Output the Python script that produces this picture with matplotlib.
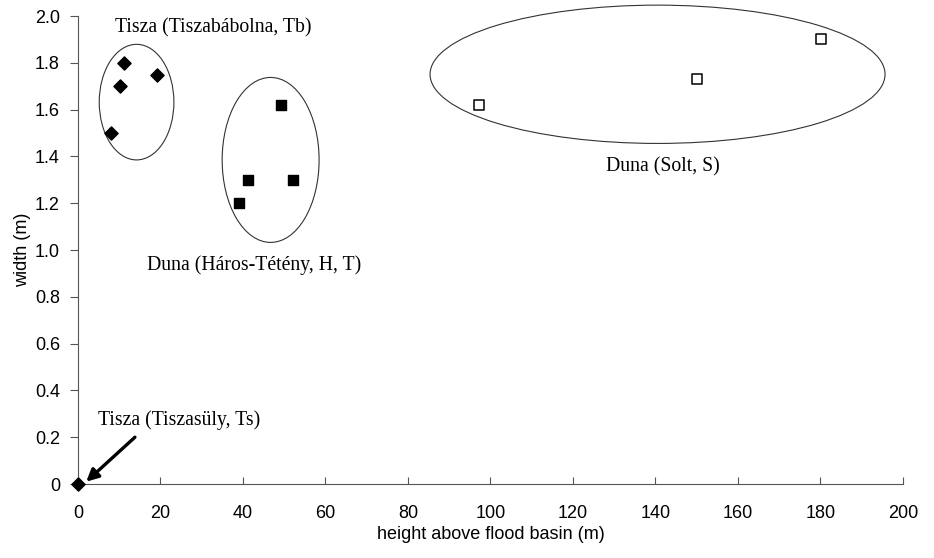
import matplotlib.pyplot as plt
from matplotlib.patches import Ellipse

# Data
tb_x = [8.1, 10.2, 11.2, 19.1]          # Tisza (Tiszabábolna)
tb_y = [1.50, 1.70, 1.80, 1.75]
ht_x = [39.1, 41.3, 52.2, 49.1]         # Duna (Háros-Tétény)
ht_y = [1.20, 1.30, 1.30, 1.62]
solt_x = [97.1, 150.1, 180.1]           # Duna (Solt)
solt_y = [1.62, 1.73, 1.90]
ts_x = [0]                              # Tisza (Tiszasüly)
ts_y = [0]

xticks = list(range(0, 201, 20))
yticks = [0, 0.2, 0.4, 0.6, 0.8, 1.0, 1.2, 1.4, 1.6, 1.8, 2.0]
ytick_labels = ['0'] + ['%.1f' % v for v in yticks[1:]]

plt.rcParams['font.family'] = ['Liberation Sans', 'DejaVu Sans']
serif = ['Liberation Serif', 'DejaVu Serif']

fig = plt.figure(figsize=(9.34, 5.58), dpi=100)
ax = fig.add_axes([0.0835, 0.1326, 0.8833, 0.8387])

ax.scatter(tb_x, tb_y, marker='D', s=45, color='black', zorder=3)
ax.scatter(ht_x, ht_y, marker='s', s=48, color='black', zorder=3)
ax.scatter(solt_x, solt_y, marker='s', s=55, facecolor='white',
           edgecolor='black', linewidth=1.1, zorder=3)
ax.scatter(ts_x, ts_y, marker='D', s=45, color='black', zorder=4, clip_on=False)

# Group ellipses
for cx, cy, w, h in [(14.2, 1.632, 18.1, 0.494),
                     (46.7, 1.385, 23.5, 0.705),
                     (140.5, 1.751, 110.3, 0.591)]:
    ax.add_patch(Ellipse((cx, cy), w, h, fill=False, edgecolor='#333333',
                         linewidth=0.8, clip_on=False))

ax.text(9.0, 1.949, 'Tisza (Tiszabábolna, Tb)', family=serif, fontsize=14.2, va='center')
ax.text(16.7, 0.936, 'Duna (Háros-Tétény, H, T)', family=serif, fontsize=14.2, va='center')
ax.text(141.7, 1.355, 'Duna (Solt, S)', family=serif, fontsize=14.2, va='center', ha='center')
ax.text(4.8, 0.274, 'Tisza (Tiszasüly, Ts)', family=serif, fontsize=14.2, va='center')

ax.annotate('', xy=(2.0, 0.01), xytext=(13.8, 0.20),
            arrowprops=dict(arrowstyle='-|>', color='black', lw=2.4,
                            mutation_scale=18, shrinkA=0, shrinkB=0))

ax.set_xlim(0, 200)
ax.set_ylim(0, 2.0)
ax.set_xticks(xticks)
ax.set_yticks(yticks)
ax.set_yticklabels(ytick_labels)
ax.tick_params(axis='x', direction='in', length=5, labelsize=13, pad=15, color='#555555')
ax.tick_params(axis='y', direction='out', length=6, labelsize=13, pad=7, color='#555555')
for s in ['top', 'right']:
    ax.spines[s].set_visible(False)
for s in ['left', 'bottom']:
    ax.spines[s].set_color('#555555')

ax.set_xlabel('height above flood basin (m)', fontsize=13, labelpad=3)
ax.set_ylabel('width (m)', fontsize=13, labelpad=3)

fig.savefig('out.png', dpi=100)
